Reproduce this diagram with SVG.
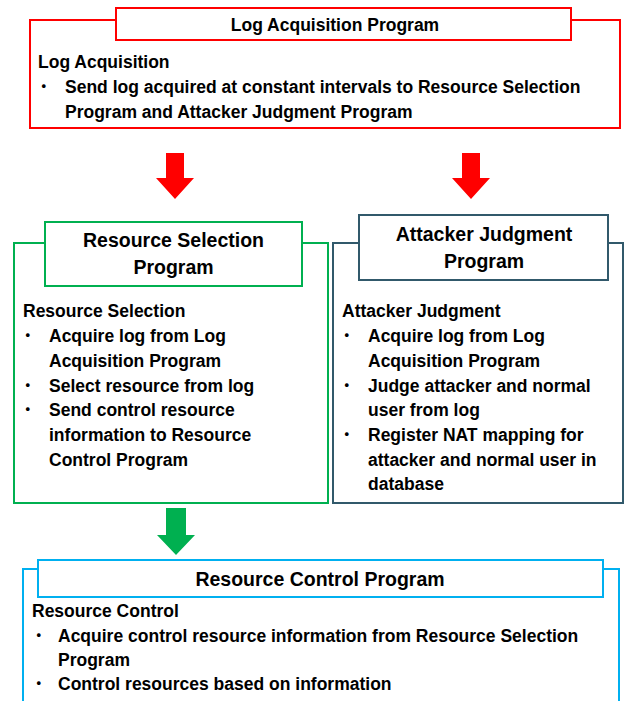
<svg xmlns="http://www.w3.org/2000/svg" width="624" height="701" viewBox="0 0 624 701">
<style>
text{font-family:"Liberation Sans","Noto Sans CJK JP",Arial,sans-serif;font-weight:bold;fill:#000;font-size:17.5px}
.t{font-size:19.5px;text-anchor:middle}
.tt{font-size:17.5px;text-anchor:middle}
.b{font-family:"Noto Sans CJK JP","Liberation Sans",sans-serif;font-weight:normal}
.red{fill:#fff;stroke:#FF0000;stroke-width:2}
.grn{fill:#fff;stroke:#00B050;stroke-width:2}
.tel{fill:#fff;stroke:#31596B;stroke-width:2}
.blu{fill:#fff;stroke:#00B0F0;stroke-width:2}
</style>
<rect width="624" height="701" fill="#fff"/>
<g id="connectors">
<polygon points="166,153 184,153 184,178 194,178 175,199 156,178 166,178" fill="#FF0000"/>
<polygon points="462,153 480,153 480,178 490,178 471,199 452,178 462,178" fill="#FF0000"/>
<polygon points="166,508 186,508 186,535 195,535 176,555 157,535 166,535" fill="#00B050"/>
</g>
<g id="log-acquisition">
<rect class="red" x="30" y="20" width="590" height="108"/>
<rect class="red" x="116" y="8" width="455" height="32"/>
<text class="tt" x="335" y="31">Log Acquisition Program</text>
<text x="38" y="68">Log Acquisition</text>
<text class="b" x="35" y="93">・</text>
<text x="65" y="93">Send log acquired at constant intervals to Resource Selection</text>
<text x="65" y="118">Program and Attacker Judgment Program</text>
</g>
<g id="resource-selection">
<rect class="grn" x="14" y="243" width="314" height="260"/>
<rect class="grn" x="45" y="222" width="257" height="64"/>
<text class="t" x="173.5" y="247">Resource Selection</text>
<text class="t" x="173.5" y="274">Program</text>
<text x="23" y="317">Resource Selection</text>
<text class="b" x="19" y="342">・</text>
<text x="49" y="342">Acquire log from Log</text>
<text x="49" y="367">Acquisition Program</text>
<text class="b" x="19" y="392">・</text>
<text x="49" y="392">Select resource from log</text>
<text class="b" x="19" y="416">・</text>
<text x="49" y="416">Send control resource</text>
<text x="49" y="441">information to Resource</text>
<text x="49" y="466">Control Program</text>
</g>
<g id="attacker-judgment">
<rect class="tel" x="333" y="243" width="290" height="260"/>
<rect class="tel" x="359" y="215" width="249" height="65"/>
<text class="t" x="484" y="241">Attacker Judgment</text>
<text class="t" x="484" y="268">Program</text>
<text x="342" y="317">Attacker Judgment</text>
<text class="b" x="338" y="342">・</text>
<text x="368" y="342">Acquire log from Log</text>
<text x="368" y="367">Acquisition Program</text>
<text class="b" x="338" y="392">・</text>
<text x="368" y="392">Judge attacker and normal</text>
<text x="368" y="416">user from log</text>
<text class="b" x="338" y="441">・</text>
<text x="368" y="441">Register NAT mapping for</text>
<text x="368" y="466">attacker and normal user in</text>
<text x="368" y="490">database</text>
</g>
<g id="resource-control">
<rect class="blu" x="23" y="569" width="596" height="150"/>
<rect class="blu" x="38" y="560" width="565" height="37"/>
<text class="t" x="320" y="586">Resource Control Program</text>
<text x="32" y="617">Resource Control</text>
<text class="b" x="30" y="642">・</text>
<text x="58" y="642">Acquire control resource information from Resource Selection</text>
<text x="58" y="666">Program</text>
<text class="b" x="30" y="690">・</text>
<text x="58" y="690">Control resources based on information</text>
</g>
</svg>
